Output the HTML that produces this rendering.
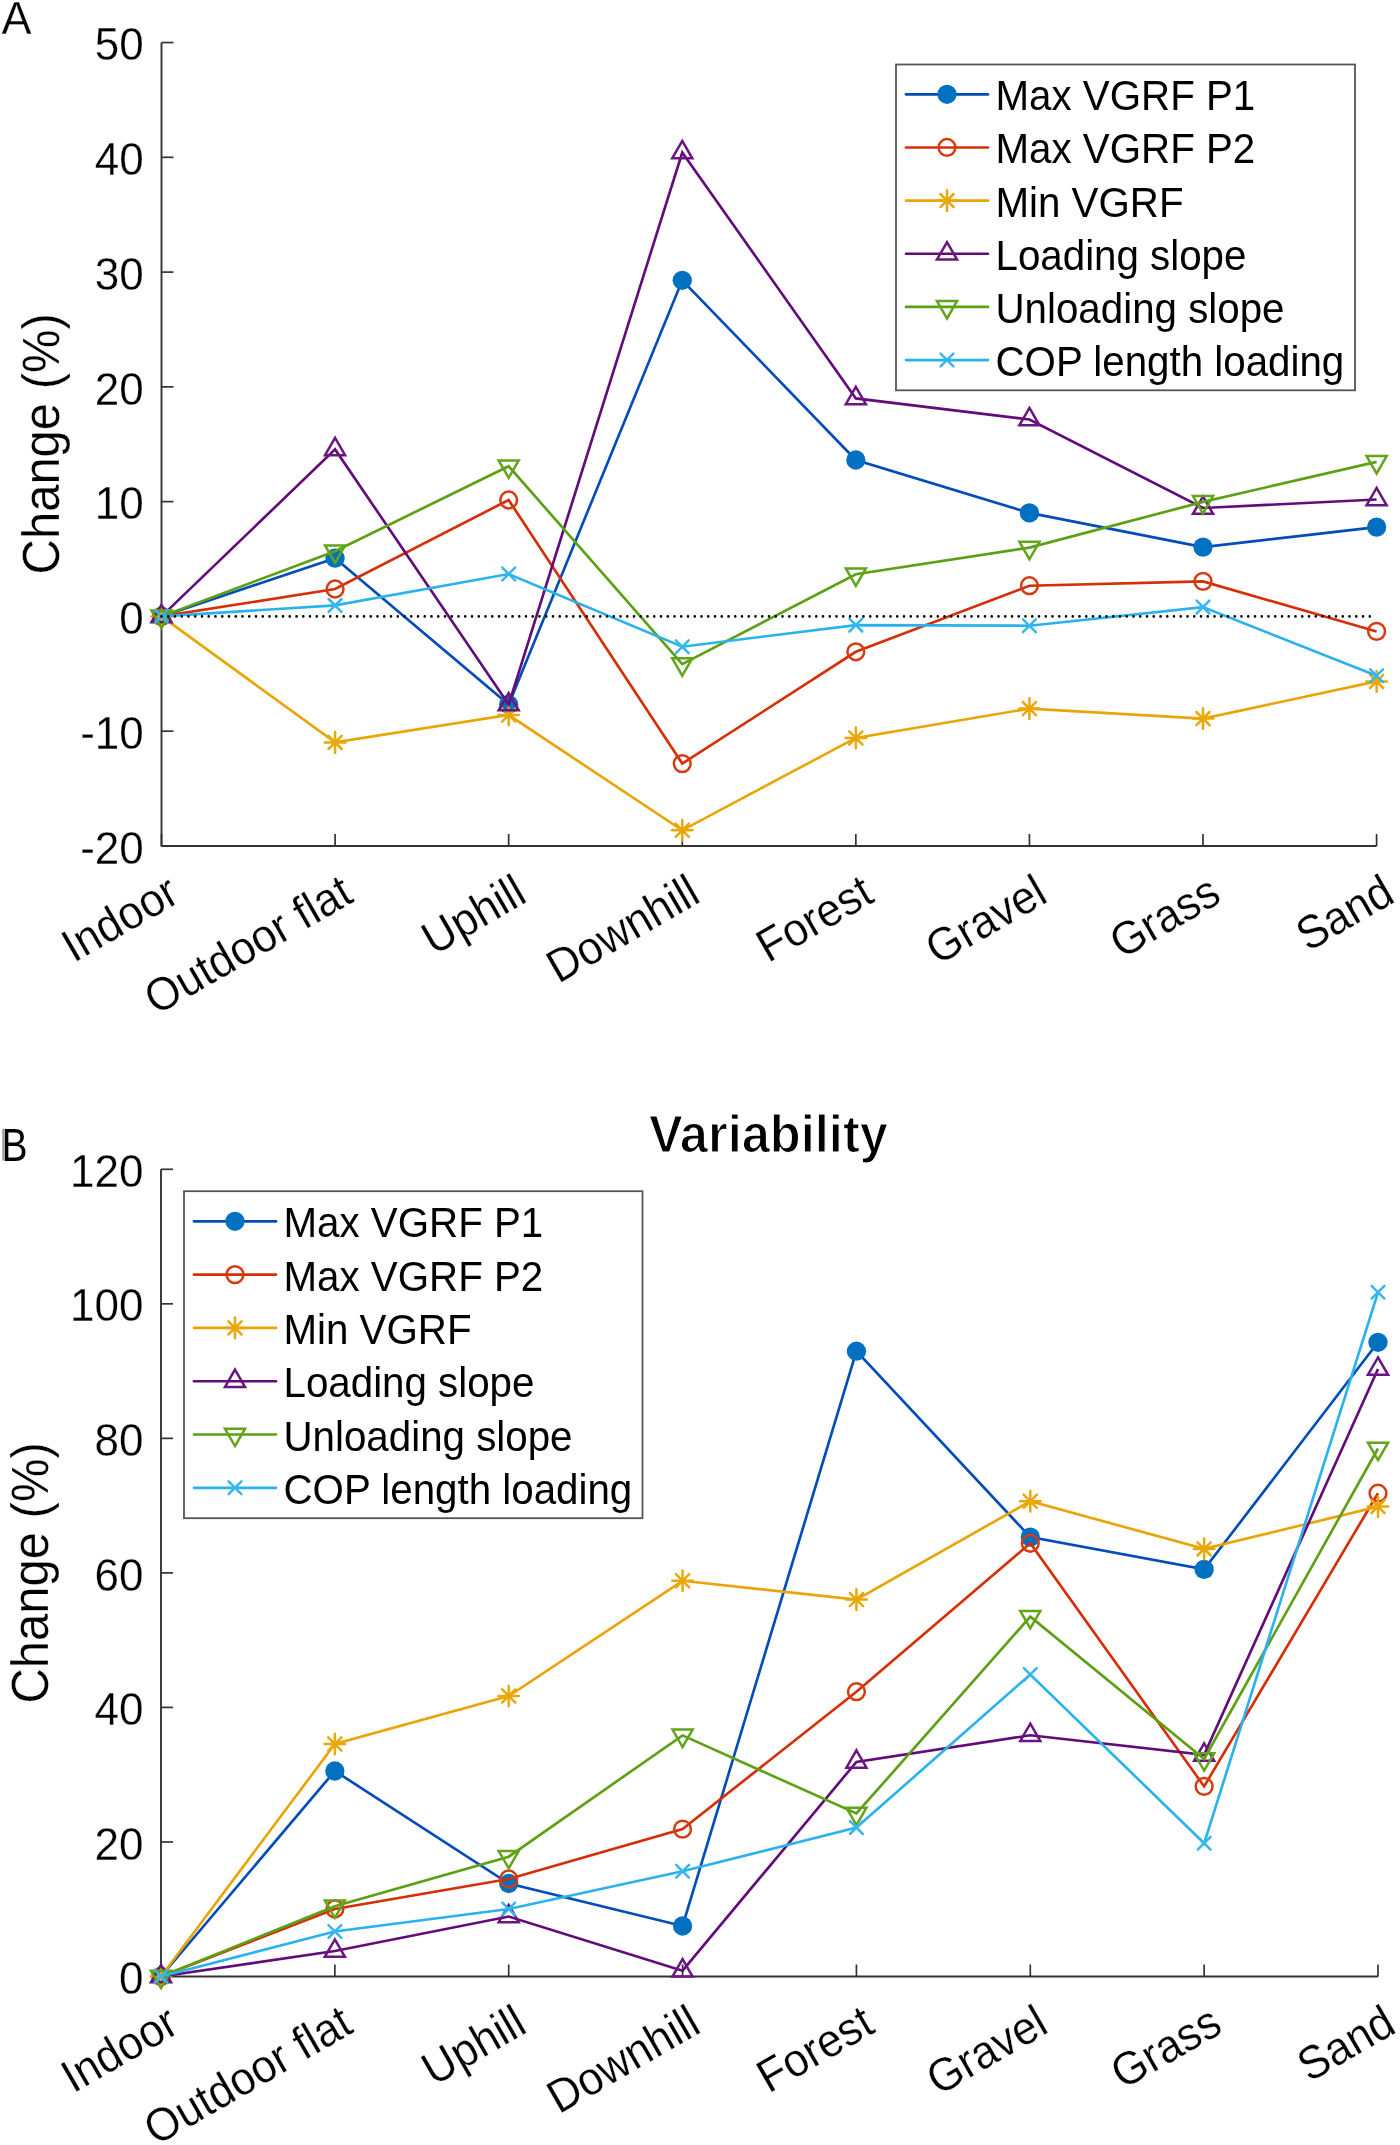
<!DOCTYPE html>
<html><head><meta charset="utf-8"><style>
html,body{margin:0;padding:0;background:#fff;}
svg{display:block;will-change:transform;}
text{font-family:"Liberation Sans", sans-serif;}
</style></head><body>
<svg width="1400" height="2145" viewBox="0 0 1400 2145">
<rect width="1400" height="2145" fill="#fff"/>
<text x="0" y="0" font-size="45" text-anchor="start" font-weight="normal" fill="#000" stroke="#fff" stroke-width="0.25" transform="translate(1.50 33.80) scale(1 1.04)">A</text>
<path d="M161.50,42.40V846.00H1376.60" fill="none" stroke="#333333" stroke-width="1.9" stroke-linejoin="round"/>
<line x1="161.50" y1="42.55" x2="173.50" y2="42.55" stroke="#333333" stroke-width="1.7"/>
<text x="0" y="0" font-size="44" text-anchor="end" font-weight="normal" fill="#000" stroke="#fff" stroke-width="0.25" transform="translate(143.80 60.35) scale(1 1.06)">50</text>
<line x1="161.50" y1="157.32" x2="173.50" y2="157.32" stroke="#333333" stroke-width="1.7"/>
<text x="0" y="0" font-size="44" text-anchor="end" font-weight="normal" fill="#000" stroke="#fff" stroke-width="0.25" transform="translate(143.80 175.12) scale(1 1.06)">40</text>
<line x1="161.50" y1="272.09" x2="173.50" y2="272.09" stroke="#333333" stroke-width="1.7"/>
<text x="0" y="0" font-size="44" text-anchor="end" font-weight="normal" fill="#000" stroke="#fff" stroke-width="0.25" transform="translate(143.80 289.89) scale(1 1.06)">30</text>
<line x1="161.50" y1="386.86" x2="173.50" y2="386.86" stroke="#333333" stroke-width="1.7"/>
<text x="0" y="0" font-size="44" text-anchor="end" font-weight="normal" fill="#000" stroke="#fff" stroke-width="0.25" transform="translate(143.80 404.66) scale(1 1.06)">20</text>
<line x1="161.50" y1="501.63" x2="173.50" y2="501.63" stroke="#333333" stroke-width="1.7"/>
<text x="0" y="0" font-size="44" text-anchor="end" font-weight="normal" fill="#000" stroke="#fff" stroke-width="0.25" transform="translate(143.80 519.43) scale(1 1.06)">10</text>
<line x1="161.50" y1="616.40" x2="173.50" y2="616.40" stroke="#333333" stroke-width="1.7"/>
<text x="0" y="0" font-size="44" text-anchor="end" font-weight="normal" fill="#000" stroke="#fff" stroke-width="0.25" transform="translate(143.80 634.20) scale(1 1.06)">0</text>
<line x1="161.50" y1="731.17" x2="173.50" y2="731.17" stroke="#333333" stroke-width="1.7"/>
<text x="0" y="0" font-size="44" text-anchor="end" font-weight="normal" fill="#000" stroke="#fff" stroke-width="0.25" transform="translate(143.80 748.97) scale(1 1.06)">-10</text>
<line x1="161.50" y1="845.94" x2="173.50" y2="845.94" stroke="#333333" stroke-width="1.7"/>
<text x="0" y="0" font-size="44" text-anchor="end" font-weight="normal" fill="#000" stroke="#fff" stroke-width="0.25" transform="translate(143.80 863.74) scale(1 1.06)">-20</text>
<line x1="161.50" y1="846.00" x2="161.50" y2="834.00" stroke="#333333" stroke-width="1.7"/>
<text x="0" y="0" font-size="44" text-anchor="end" font-weight="normal" fill="#000" stroke="#fff" stroke-width="0.25" transform="translate(181.80 900.90) rotate(-30) scale(1 1.06)">Indoor</text>
<line x1="335.09" y1="846.00" x2="335.09" y2="834.00" stroke="#333333" stroke-width="1.7"/>
<text x="0" y="0" font-size="44" text-anchor="end" font-weight="normal" fill="#000" stroke="#fff" stroke-width="0.25" transform="translate(355.39 900.90) rotate(-30) scale(1 1.06)">Outdoor flat</text>
<line x1="508.67" y1="846.00" x2="508.67" y2="834.00" stroke="#333333" stroke-width="1.7"/>
<text x="0" y="0" font-size="44" text-anchor="end" font-weight="normal" fill="#000" stroke="#fff" stroke-width="0.25" transform="translate(528.97 900.90) rotate(-30) scale(1 1.06)">Uphill</text>
<line x1="682.26" y1="846.00" x2="682.26" y2="834.00" stroke="#333333" stroke-width="1.7"/>
<text x="0" y="0" font-size="44" text-anchor="end" font-weight="normal" fill="#000" stroke="#fff" stroke-width="0.25" transform="translate(702.56 900.90) rotate(-30) scale(1 1.06)">Downhill</text>
<line x1="855.84" y1="846.00" x2="855.84" y2="834.00" stroke="#333333" stroke-width="1.7"/>
<text x="0" y="0" font-size="44" text-anchor="end" font-weight="normal" fill="#000" stroke="#fff" stroke-width="0.25" transform="translate(876.14 900.90) rotate(-30) scale(1 1.06)">Forest</text>
<line x1="1029.43" y1="846.00" x2="1029.43" y2="834.00" stroke="#333333" stroke-width="1.7"/>
<text x="0" y="0" font-size="44" text-anchor="end" font-weight="normal" fill="#000" stroke="#fff" stroke-width="0.25" transform="translate(1049.73 900.90) rotate(-30) scale(1 1.06)">Gravel</text>
<line x1="1203.01" y1="846.00" x2="1203.01" y2="834.00" stroke="#333333" stroke-width="1.7"/>
<text x="0" y="0" font-size="44" text-anchor="end" font-weight="normal" fill="#000" stroke="#fff" stroke-width="0.25" transform="translate(1223.31 900.90) rotate(-30) scale(1 1.06)">Grass</text>
<line x1="1376.60" y1="846.00" x2="1376.60" y2="834.00" stroke="#333333" stroke-width="1.7"/>
<text x="0" y="0" font-size="44" text-anchor="end" font-weight="normal" fill="#000" stroke="#fff" stroke-width="0.25" transform="translate(1396.90 900.90) rotate(-30) scale(1 1.06)">Sand</text>
<polyline points="161.50,616.40 335.09,558.20 508.67,704.50 682.26,280.30 855.84,460.00 1029.43,512.90 1203.01,547.10 1376.60,527.10" fill="none" stroke="#004CB8" stroke-width="2.65" stroke-linejoin="miter" stroke-miterlimit="10"/>
<circle cx="161.50" cy="616.40" r="9.65" fill="#0070C0" stroke="none"/>
<circle cx="335.09" cy="558.20" r="9.65" fill="#0070C0" stroke="none"/>
<circle cx="508.67" cy="704.50" r="9.65" fill="#0070C0" stroke="none"/>
<circle cx="682.26" cy="280.30" r="9.65" fill="#0070C0" stroke="none"/>
<circle cx="855.84" cy="460.00" r="9.65" fill="#0070C0" stroke="none"/>
<circle cx="1029.43" cy="512.90" r="9.65" fill="#0070C0" stroke="none"/>
<circle cx="1203.01" cy="547.10" r="9.65" fill="#0070C0" stroke="none"/>
<circle cx="1376.60" cy="527.10" r="9.65" fill="#0070C0" stroke="none"/>
<polyline points="161.50,616.40 335.09,589.00 508.67,500.00 682.26,763.60 855.84,651.80 1029.43,585.70 1203.01,581.40 1376.60,631.40" fill="none" stroke="#D62E06" stroke-width="2.65" stroke-linejoin="miter" stroke-miterlimit="10"/>
<circle cx="161.50" cy="616.40" r="8.40" fill="none" stroke="#D83A10" stroke-width="2.5"/>
<circle cx="335.09" cy="589.00" r="8.40" fill="none" stroke="#D83A10" stroke-width="2.5"/>
<circle cx="508.67" cy="500.00" r="8.40" fill="none" stroke="#D83A10" stroke-width="2.5"/>
<circle cx="682.26" cy="763.60" r="8.40" fill="none" stroke="#D83A10" stroke-width="2.5"/>
<circle cx="855.84" cy="651.80" r="8.40" fill="none" stroke="#D83A10" stroke-width="2.5"/>
<circle cx="1029.43" cy="585.70" r="8.40" fill="none" stroke="#D83A10" stroke-width="2.5"/>
<circle cx="1203.01" cy="581.40" r="8.40" fill="none" stroke="#D83A10" stroke-width="2.5"/>
<circle cx="1376.60" cy="631.40" r="8.40" fill="none" stroke="#D83A10" stroke-width="2.5"/>
<polyline points="161.50,616.40 335.09,742.40 508.67,715.00 682.26,830.30 855.84,737.90 1029.43,708.60 1203.01,718.60 1376.60,681.40" fill="none" stroke="#E9A506" stroke-width="2.65" stroke-linejoin="miter" stroke-miterlimit="10"/>
<path d="M161.50,606.10V626.70M151.20,616.40H171.80M154.90,609.80L168.10,623.00M154.90,623.00L168.10,609.80" stroke="#E9A80A" stroke-width="2.5" stroke-linecap="round" fill="none"/>
<path d="M335.09,732.10V752.70M324.79,742.40H345.39M328.49,735.80L341.69,749.00M328.49,749.00L341.69,735.80" stroke="#E9A80A" stroke-width="2.5" stroke-linecap="round" fill="none"/>
<path d="M508.67,704.70V725.30M498.37,715.00H518.97M502.07,708.40L515.27,721.60M502.07,721.60L515.27,708.40" stroke="#E9A80A" stroke-width="2.5" stroke-linecap="round" fill="none"/>
<path d="M682.26,820.00V840.60M671.96,830.30H692.56M675.66,823.70L688.86,836.90M675.66,836.90L688.86,823.70" stroke="#E9A80A" stroke-width="2.5" stroke-linecap="round" fill="none"/>
<path d="M855.84,727.60V748.20M845.54,737.90H866.14M849.24,731.30L862.44,744.50M849.24,744.50L862.44,731.30" stroke="#E9A80A" stroke-width="2.5" stroke-linecap="round" fill="none"/>
<path d="M1029.43,698.30V718.90M1019.13,708.60H1039.73M1022.83,702.00L1036.03,715.20M1022.83,715.20L1036.03,702.00" stroke="#E9A80A" stroke-width="2.5" stroke-linecap="round" fill="none"/>
<path d="M1203.01,708.30V728.90M1192.71,718.60H1213.31M1196.41,712.00L1209.61,725.20M1196.41,725.20L1209.61,712.00" stroke="#E9A80A" stroke-width="2.5" stroke-linecap="round" fill="none"/>
<path d="M1376.60,671.10V691.70M1366.30,681.40H1386.90M1370.00,674.80L1383.20,688.00M1370.00,688.00L1383.20,674.80" stroke="#E9A80A" stroke-width="2.5" stroke-linecap="round" fill="none"/>
<polyline points="161.50,616.40 335.09,449.40 508.67,704.50 682.26,152.50 855.84,398.40 1029.43,419.50 1203.01,508.00 1376.60,499.50" fill="none" stroke="#620C7A" stroke-width="2.65" stroke-linejoin="miter" stroke-miterlimit="10"/>
<polygon points="161.50,604.80 171.55,622.20 151.45,622.20" fill="none" stroke="#6A1680" stroke-width="2.5" stroke-linejoin="miter"/>
<polygon points="335.09,437.80 345.13,455.20 325.04,455.20" fill="none" stroke="#6A1680" stroke-width="2.5" stroke-linejoin="miter"/>
<polygon points="508.67,692.90 518.72,710.30 498.63,710.30" fill="none" stroke="#6A1680" stroke-width="2.5" stroke-linejoin="miter"/>
<polygon points="682.26,140.90 692.30,158.30 672.21,158.30" fill="none" stroke="#6A1680" stroke-width="2.5" stroke-linejoin="miter"/>
<polygon points="855.84,386.80 865.89,404.20 845.80,404.20" fill="none" stroke="#6A1680" stroke-width="2.5" stroke-linejoin="miter"/>
<polygon points="1029.43,407.90 1039.47,425.30 1019.38,425.30" fill="none" stroke="#6A1680" stroke-width="2.5" stroke-linejoin="miter"/>
<polygon points="1203.01,496.40 1213.06,513.80 1192.97,513.80" fill="none" stroke="#6A1680" stroke-width="2.5" stroke-linejoin="miter"/>
<polygon points="1376.60,487.90 1386.65,505.30 1366.55,505.30" fill="none" stroke="#6A1680" stroke-width="2.5" stroke-linejoin="miter"/>
<polyline points="161.50,616.40 335.09,551.20 508.67,466.20 682.26,664.10 855.84,574.20 1029.43,547.60 1203.01,501.90 1376.60,461.90" fill="none" stroke="#5CA014" stroke-width="2.65" stroke-linejoin="miter" stroke-miterlimit="10"/>
<polygon points="161.50,628.00 171.55,610.60 151.45,610.60" fill="none" stroke="#62A41A" stroke-width="2.5" stroke-linejoin="miter"/>
<polygon points="335.09,562.80 345.13,545.40 325.04,545.40" fill="none" stroke="#62A41A" stroke-width="2.5" stroke-linejoin="miter"/>
<polygon points="508.67,477.80 518.72,460.40 498.63,460.40" fill="none" stroke="#62A41A" stroke-width="2.5" stroke-linejoin="miter"/>
<polygon points="682.26,675.70 692.30,658.30 672.21,658.30" fill="none" stroke="#62A41A" stroke-width="2.5" stroke-linejoin="miter"/>
<polygon points="855.84,585.80 865.89,568.40 845.80,568.40" fill="none" stroke="#62A41A" stroke-width="2.5" stroke-linejoin="miter"/>
<polygon points="1029.43,559.20 1039.47,541.80 1019.38,541.80" fill="none" stroke="#62A41A" stroke-width="2.5" stroke-linejoin="miter"/>
<polygon points="1203.01,513.50 1213.06,496.10 1192.97,496.10" fill="none" stroke="#62A41A" stroke-width="2.5" stroke-linejoin="miter"/>
<polygon points="1376.60,473.50 1386.65,456.10 1366.55,456.10" fill="none" stroke="#62A41A" stroke-width="2.5" stroke-linejoin="miter"/>
<polyline points="161.50,616.40 335.09,605.40 508.67,574.00 682.26,646.70 855.84,625.10 1029.43,625.70 1203.01,607.10 1376.60,675.70" fill="none" stroke="#2AB2EE" stroke-width="2.65" stroke-linejoin="miter" stroke-miterlimit="10"/>
<path d="M155.10,610.00L167.90,622.80M155.10,622.80L167.90,610.00" stroke="#36B6EE" stroke-width="2.5" stroke-linecap="round" fill="none"/>
<path d="M328.69,599.00L341.49,611.80M328.69,611.80L341.49,599.00" stroke="#36B6EE" stroke-width="2.5" stroke-linecap="round" fill="none"/>
<path d="M502.27,567.60L515.07,580.40M502.27,580.40L515.07,567.60" stroke="#36B6EE" stroke-width="2.5" stroke-linecap="round" fill="none"/>
<path d="M675.86,640.30L688.66,653.10M675.86,653.10L688.66,640.30" stroke="#36B6EE" stroke-width="2.5" stroke-linecap="round" fill="none"/>
<path d="M849.44,618.70L862.24,631.50M849.44,631.50L862.24,618.70" stroke="#36B6EE" stroke-width="2.5" stroke-linecap="round" fill="none"/>
<path d="M1023.03,619.30L1035.83,632.10M1023.03,632.10L1035.83,619.30" stroke="#36B6EE" stroke-width="2.5" stroke-linecap="round" fill="none"/>
<path d="M1196.61,600.70L1209.41,613.50M1196.61,613.50L1209.41,600.70" stroke="#36B6EE" stroke-width="2.5" stroke-linecap="round" fill="none"/>
<path d="M1370.20,669.30L1383.00,682.10M1370.20,682.10L1383.00,669.30" stroke="#36B6EE" stroke-width="2.5" stroke-linecap="round" fill="none"/>
<line x1="161.50" y1="616.40" x2="1374.60" y2="616.40" stroke="#000" stroke-width="2.6" stroke-linecap="round" stroke-dasharray="0 6.75"/>
<text x="0" y="0" font-size="49" text-anchor="middle" font-weight="normal" fill="#000" stroke="#fff" stroke-width="0.25" transform="translate(58.80 443.80) rotate(-90) scale(1 1.04)">Change (%)</text>
<rect x="896.00" y="64.50" width="459.00" height="325.80" fill="#fff" stroke="#555" stroke-width="1.8"/>
<line x1="906.00" y1="94.30" x2="988.00" y2="94.30" stroke="#004CB8" stroke-width="2.65" stroke-linecap="round"/>
<circle cx="947.00" cy="94.30" r="9.65" fill="#0070C0" stroke="none"/>
<text x="0" y="0" font-size="40.3" text-anchor="start" font-weight="normal" fill="#000" transform="translate(995.50 110.30) scale(1 1.04)">Max VGRF P1</text>
<line x1="906.00" y1="147.45" x2="988.00" y2="147.45" stroke="#D62E06" stroke-width="2.65" stroke-linecap="round"/>
<circle cx="947.00" cy="147.45" r="8.40" fill="none" stroke="#D83A10" stroke-width="2.5"/>
<text x="0" y="0" font-size="40.3" text-anchor="start" font-weight="normal" fill="#000" transform="translate(995.50 163.45) scale(1 1.04)">Max VGRF P2</text>
<line x1="906.00" y1="200.60" x2="988.00" y2="200.60" stroke="#E9A506" stroke-width="2.65" stroke-linecap="round"/>
<path d="M947.00,190.30V210.90M936.70,200.60H957.30M940.40,194.00L953.60,207.20M940.40,207.20L953.60,194.00" stroke="#E9A80A" stroke-width="2.5" stroke-linecap="round" fill="none"/>
<text x="0" y="0" font-size="40.3" text-anchor="start" font-weight="normal" fill="#000" transform="translate(995.50 216.60) scale(1 1.04)">Min VGRF</text>
<line x1="906.00" y1="253.75" x2="988.00" y2="253.75" stroke="#620C7A" stroke-width="2.65" stroke-linecap="round"/>
<polygon points="947.00,242.15 957.05,259.55 936.95,259.55" fill="none" stroke="#6A1680" stroke-width="2.5" stroke-linejoin="miter"/>
<text x="0" y="0" font-size="40.3" text-anchor="start" font-weight="normal" fill="#000" transform="translate(995.50 269.75) scale(1 1.04)">Loading slope</text>
<line x1="906.00" y1="306.90" x2="988.00" y2="306.90" stroke="#5CA014" stroke-width="2.65" stroke-linecap="round"/>
<polygon points="947.00,318.50 957.05,301.10 936.95,301.10" fill="none" stroke="#62A41A" stroke-width="2.5" stroke-linejoin="miter"/>
<text x="0" y="0" font-size="40.3" text-anchor="start" font-weight="normal" fill="#000" transform="translate(995.50 322.90) scale(1 1.04)">Unloading slope</text>
<line x1="906.00" y1="360.05" x2="988.00" y2="360.05" stroke="#2AB2EE" stroke-width="2.65" stroke-linecap="round"/>
<path d="M940.60,353.65L953.40,366.45M940.60,366.45L953.40,353.65" stroke="#36B6EE" stroke-width="2.5" stroke-linecap="round" fill="none"/>
<text x="0" y="0" font-size="40.3" text-anchor="start" font-weight="normal" fill="#000" transform="translate(995.50 376.05) scale(1 1.04)">COP length loading</text>
<rect x="2.3" y="1129" width="1.8" height="31.5" fill="#9a9a9a"/>
<text x="0" y="0" font-size="45" fill="#000" transform="translate(1.5 1160.5) scale(0.87 1.04)">B</text>
<text x="0" y="0" font-size="50.6" text-anchor="middle" font-weight="bold" fill="#000" stroke="#fff" stroke-width="1.2" transform="translate(768.40 1152.40) scale(1 1.04)">Variability</text>
<path d="M161.00,1169.30V1976.50H1378.00" fill="none" stroke="#333333" stroke-width="1.9" stroke-linejoin="round"/>
<line x1="161.00" y1="1169.30" x2="173.00" y2="1169.30" stroke="#333333" stroke-width="1.7"/>
<text x="0" y="0" font-size="44" text-anchor="end" font-weight="normal" fill="#000" stroke="#fff" stroke-width="0.25" transform="translate(143.40 1186.90) scale(1 1.06)">120</text>
<line x1="161.00" y1="1303.83" x2="173.00" y2="1303.83" stroke="#333333" stroke-width="1.7"/>
<text x="0" y="0" font-size="44" text-anchor="end" font-weight="normal" fill="#000" stroke="#fff" stroke-width="0.25" transform="translate(143.40 1321.43) scale(1 1.06)">100</text>
<line x1="161.00" y1="1438.37" x2="173.00" y2="1438.37" stroke="#333333" stroke-width="1.7"/>
<text x="0" y="0" font-size="44" text-anchor="end" font-weight="normal" fill="#000" stroke="#fff" stroke-width="0.25" transform="translate(143.40 1455.97) scale(1 1.06)">80</text>
<line x1="161.00" y1="1572.90" x2="173.00" y2="1572.90" stroke="#333333" stroke-width="1.7"/>
<text x="0" y="0" font-size="44" text-anchor="end" font-weight="normal" fill="#000" stroke="#fff" stroke-width="0.25" transform="translate(143.40 1590.50) scale(1 1.06)">60</text>
<line x1="161.00" y1="1707.43" x2="173.00" y2="1707.43" stroke="#333333" stroke-width="1.7"/>
<text x="0" y="0" font-size="44" text-anchor="end" font-weight="normal" fill="#000" stroke="#fff" stroke-width="0.25" transform="translate(143.40 1725.03) scale(1 1.06)">40</text>
<line x1="161.00" y1="1841.97" x2="173.00" y2="1841.97" stroke="#333333" stroke-width="1.7"/>
<text x="0" y="0" font-size="44" text-anchor="end" font-weight="normal" fill="#000" stroke="#fff" stroke-width="0.25" transform="translate(143.40 1859.57) scale(1 1.06)">20</text>
<line x1="161.00" y1="1976.50" x2="173.00" y2="1976.50" stroke="#333333" stroke-width="1.7"/>
<text x="0" y="0" font-size="44" text-anchor="end" font-weight="normal" fill="#000" stroke="#fff" stroke-width="0.25" transform="translate(143.40 1994.10) scale(1 1.06)">0</text>
<line x1="161.00" y1="1976.50" x2="161.00" y2="1964.50" stroke="#333333" stroke-width="1.7"/>
<text x="0" y="0" font-size="44" text-anchor="end" font-weight="normal" fill="#000" stroke="#fff" stroke-width="0.25" transform="translate(181.30 2031.40) rotate(-30) scale(1 1.06)">Indoor</text>
<line x1="334.86" y1="1976.50" x2="334.86" y2="1964.50" stroke="#333333" stroke-width="1.7"/>
<text x="0" y="0" font-size="44" text-anchor="end" font-weight="normal" fill="#000" stroke="#fff" stroke-width="0.25" transform="translate(355.16 2031.40) rotate(-30) scale(1 1.06)">Outdoor flat</text>
<line x1="508.71" y1="1976.50" x2="508.71" y2="1964.50" stroke="#333333" stroke-width="1.7"/>
<text x="0" y="0" font-size="44" text-anchor="end" font-weight="normal" fill="#000" stroke="#fff" stroke-width="0.25" transform="translate(529.01 2031.40) rotate(-30) scale(1 1.06)">Uphill</text>
<line x1="682.57" y1="1976.50" x2="682.57" y2="1964.50" stroke="#333333" stroke-width="1.7"/>
<text x="0" y="0" font-size="44" text-anchor="end" font-weight="normal" fill="#000" stroke="#fff" stroke-width="0.25" transform="translate(702.87 2031.40) rotate(-30) scale(1 1.06)">Downhill</text>
<line x1="856.43" y1="1976.50" x2="856.43" y2="1964.50" stroke="#333333" stroke-width="1.7"/>
<text x="0" y="0" font-size="44" text-anchor="end" font-weight="normal" fill="#000" stroke="#fff" stroke-width="0.25" transform="translate(876.73 2031.40) rotate(-30) scale(1 1.06)">Forest</text>
<line x1="1030.29" y1="1976.50" x2="1030.29" y2="1964.50" stroke="#333333" stroke-width="1.7"/>
<text x="0" y="0" font-size="44" text-anchor="end" font-weight="normal" fill="#000" stroke="#fff" stroke-width="0.25" transform="translate(1050.59 2031.40) rotate(-30) scale(1 1.06)">Gravel</text>
<line x1="1204.14" y1="1976.50" x2="1204.14" y2="1964.50" stroke="#333333" stroke-width="1.7"/>
<text x="0" y="0" font-size="44" text-anchor="end" font-weight="normal" fill="#000" stroke="#fff" stroke-width="0.25" transform="translate(1224.44 2031.40) rotate(-30) scale(1 1.06)">Grass</text>
<line x1="1378.00" y1="1976.50" x2="1378.00" y2="1964.50" stroke="#333333" stroke-width="1.7"/>
<text x="0" y="0" font-size="44" text-anchor="end" font-weight="normal" fill="#000" stroke="#fff" stroke-width="0.25" transform="translate(1398.30 2031.40) rotate(-30) scale(1 1.06)">Sand</text>
<polyline points="161.00,1976.50 334.86,1771.00 508.71,1883.50 682.57,1926.00 856.43,1351.20 1030.29,1537.10 1204.14,1569.40 1378.00,1342.30" fill="none" stroke="#004CB8" stroke-width="2.65" stroke-linejoin="miter" stroke-miterlimit="10"/>
<circle cx="161.00" cy="1976.50" r="9.65" fill="#0070C0" stroke="none"/>
<circle cx="334.86" cy="1771.00" r="9.65" fill="#0070C0" stroke="none"/>
<circle cx="508.71" cy="1883.50" r="9.65" fill="#0070C0" stroke="none"/>
<circle cx="682.57" cy="1926.00" r="9.65" fill="#0070C0" stroke="none"/>
<circle cx="856.43" cy="1351.20" r="9.65" fill="#0070C0" stroke="none"/>
<circle cx="1030.29" cy="1537.10" r="9.65" fill="#0070C0" stroke="none"/>
<circle cx="1204.14" cy="1569.40" r="9.65" fill="#0070C0" stroke="none"/>
<circle cx="1378.00" cy="1342.30" r="9.65" fill="#0070C0" stroke="none"/>
<polyline points="161.00,1976.50 334.86,1909.00 508.71,1879.00 682.57,1829.10 856.43,1691.70 1030.29,1543.30 1204.14,1786.40 1378.00,1493.20" fill="none" stroke="#D62E06" stroke-width="2.65" stroke-linejoin="miter" stroke-miterlimit="10"/>
<circle cx="161.00" cy="1976.50" r="8.40" fill="none" stroke="#D83A10" stroke-width="2.5"/>
<circle cx="334.86" cy="1909.00" r="8.40" fill="none" stroke="#D83A10" stroke-width="2.5"/>
<circle cx="508.71" cy="1879.00" r="8.40" fill="none" stroke="#D83A10" stroke-width="2.5"/>
<circle cx="682.57" cy="1829.10" r="8.40" fill="none" stroke="#D83A10" stroke-width="2.5"/>
<circle cx="856.43" cy="1691.70" r="8.40" fill="none" stroke="#D83A10" stroke-width="2.5"/>
<circle cx="1030.29" cy="1543.30" r="8.40" fill="none" stroke="#D83A10" stroke-width="2.5"/>
<circle cx="1204.14" cy="1786.40" r="8.40" fill="none" stroke="#D83A10" stroke-width="2.5"/>
<circle cx="1378.00" cy="1493.20" r="8.40" fill="none" stroke="#D83A10" stroke-width="2.5"/>
<polyline points="161.00,1976.50 334.86,1744.00 508.71,1696.00 682.57,1580.80 856.43,1599.60 1030.29,1501.20 1204.14,1548.90 1378.00,1506.60" fill="none" stroke="#E9A506" stroke-width="2.65" stroke-linejoin="miter" stroke-miterlimit="10"/>
<path d="M161.00,1966.20V1986.80M150.70,1976.50H171.30M154.40,1969.90L167.60,1983.10M154.40,1983.10L167.60,1969.90" stroke="#E9A80A" stroke-width="2.5" stroke-linecap="round" fill="none"/>
<path d="M334.86,1733.70V1754.30M324.56,1744.00H345.16M328.26,1737.40L341.46,1750.60M328.26,1750.60L341.46,1737.40" stroke="#E9A80A" stroke-width="2.5" stroke-linecap="round" fill="none"/>
<path d="M508.71,1685.70V1706.30M498.41,1696.00H519.01M502.11,1689.40L515.31,1702.60M502.11,1702.60L515.31,1689.40" stroke="#E9A80A" stroke-width="2.5" stroke-linecap="round" fill="none"/>
<path d="M682.57,1570.50V1591.10M672.27,1580.80H692.87M675.97,1574.20L689.17,1587.40M675.97,1587.40L689.17,1574.20" stroke="#E9A80A" stroke-width="2.5" stroke-linecap="round" fill="none"/>
<path d="M856.43,1589.30V1609.90M846.13,1599.60H866.73M849.83,1593.00L863.03,1606.20M849.83,1606.20L863.03,1593.00" stroke="#E9A80A" stroke-width="2.5" stroke-linecap="round" fill="none"/>
<path d="M1030.29,1490.90V1511.50M1019.99,1501.20H1040.59M1023.69,1494.60L1036.89,1507.80M1023.69,1507.80L1036.89,1494.60" stroke="#E9A80A" stroke-width="2.5" stroke-linecap="round" fill="none"/>
<path d="M1204.14,1538.60V1559.20M1193.84,1548.90H1214.44M1197.54,1542.30L1210.74,1555.50M1197.54,1555.50L1210.74,1542.30" stroke="#E9A80A" stroke-width="2.5" stroke-linecap="round" fill="none"/>
<path d="M1378.00,1496.30V1516.90M1367.70,1506.60H1388.30M1371.40,1500.00L1384.60,1513.20M1371.40,1513.20L1384.60,1500.00" stroke="#E9A80A" stroke-width="2.5" stroke-linecap="round" fill="none"/>
<polyline points="161.00,1976.50 334.86,1951.00 508.71,1916.50 682.57,1970.70 856.43,1761.90 1030.29,1735.30 1204.14,1754.90 1378.00,1369.00" fill="none" stroke="#620C7A" stroke-width="2.65" stroke-linejoin="miter" stroke-miterlimit="10"/>
<polygon points="161.00,1964.90 171.05,1982.30 150.95,1982.30" fill="none" stroke="#6A1680" stroke-width="2.5" stroke-linejoin="miter"/>
<polygon points="334.86,1939.40 344.90,1956.80 324.81,1956.80" fill="none" stroke="#6A1680" stroke-width="2.5" stroke-linejoin="miter"/>
<polygon points="508.71,1904.90 518.76,1922.30 498.67,1922.30" fill="none" stroke="#6A1680" stroke-width="2.5" stroke-linejoin="miter"/>
<polygon points="682.57,1959.10 692.62,1976.50 672.53,1976.50" fill="none" stroke="#6A1680" stroke-width="2.5" stroke-linejoin="miter"/>
<polygon points="856.43,1750.30 866.47,1767.70 846.38,1767.70" fill="none" stroke="#6A1680" stroke-width="2.5" stroke-linejoin="miter"/>
<polygon points="1030.29,1723.70 1040.33,1741.10 1020.24,1741.10" fill="none" stroke="#6A1680" stroke-width="2.5" stroke-linejoin="miter"/>
<polygon points="1204.14,1743.30 1214.19,1760.70 1194.10,1760.70" fill="none" stroke="#6A1680" stroke-width="2.5" stroke-linejoin="miter"/>
<polygon points="1378.00,1357.40 1388.05,1374.80 1367.95,1374.80" fill="none" stroke="#6A1680" stroke-width="2.5" stroke-linejoin="miter"/>
<polyline points="161.00,1976.50 334.86,1906.20 508.71,1856.70 682.57,1735.40 856.43,1813.50 1030.29,1616.70 1204.14,1759.00 1378.00,1448.50" fill="none" stroke="#5CA014" stroke-width="2.65" stroke-linejoin="miter" stroke-miterlimit="10"/>
<polygon points="161.00,1988.10 171.05,1970.70 150.95,1970.70" fill="none" stroke="#62A41A" stroke-width="2.5" stroke-linejoin="miter"/>
<polygon points="334.86,1917.80 344.90,1900.40 324.81,1900.40" fill="none" stroke="#62A41A" stroke-width="2.5" stroke-linejoin="miter"/>
<polygon points="508.71,1868.30 518.76,1850.90 498.67,1850.90" fill="none" stroke="#62A41A" stroke-width="2.5" stroke-linejoin="miter"/>
<polygon points="682.57,1747.00 692.62,1729.60 672.53,1729.60" fill="none" stroke="#62A41A" stroke-width="2.5" stroke-linejoin="miter"/>
<polygon points="856.43,1825.10 866.47,1807.70 846.38,1807.70" fill="none" stroke="#62A41A" stroke-width="2.5" stroke-linejoin="miter"/>
<polygon points="1030.29,1628.30 1040.33,1610.90 1020.24,1610.90" fill="none" stroke="#62A41A" stroke-width="2.5" stroke-linejoin="miter"/>
<polygon points="1204.14,1770.60 1214.19,1753.20 1194.10,1753.20" fill="none" stroke="#62A41A" stroke-width="2.5" stroke-linejoin="miter"/>
<polygon points="1378.00,1460.10 1388.05,1442.70 1367.95,1442.70" fill="none" stroke="#62A41A" stroke-width="2.5" stroke-linejoin="miter"/>
<polyline points="161.00,1976.50 334.86,1931.50 508.71,1909.00 682.57,1871.30 856.43,1827.60 1030.29,1674.50 1204.14,1843.30 1378.00,1292.30" fill="none" stroke="#2AB2EE" stroke-width="2.65" stroke-linejoin="miter" stroke-miterlimit="10"/>
<path d="M154.60,1970.10L167.40,1982.90M154.60,1982.90L167.40,1970.10" stroke="#36B6EE" stroke-width="2.5" stroke-linecap="round" fill="none"/>
<path d="M328.46,1925.10L341.26,1937.90M328.46,1937.90L341.26,1925.10" stroke="#36B6EE" stroke-width="2.5" stroke-linecap="round" fill="none"/>
<path d="M502.31,1902.60L515.11,1915.40M502.31,1915.40L515.11,1902.60" stroke="#36B6EE" stroke-width="2.5" stroke-linecap="round" fill="none"/>
<path d="M676.17,1864.90L688.97,1877.70M676.17,1877.70L688.97,1864.90" stroke="#36B6EE" stroke-width="2.5" stroke-linecap="round" fill="none"/>
<path d="M850.03,1821.20L862.83,1834.00M850.03,1834.00L862.83,1821.20" stroke="#36B6EE" stroke-width="2.5" stroke-linecap="round" fill="none"/>
<path d="M1023.89,1668.10L1036.69,1680.90M1023.89,1680.90L1036.69,1668.10" stroke="#36B6EE" stroke-width="2.5" stroke-linecap="round" fill="none"/>
<path d="M1197.74,1836.90L1210.54,1849.70M1197.74,1849.70L1210.54,1836.90" stroke="#36B6EE" stroke-width="2.5" stroke-linecap="round" fill="none"/>
<path d="M1371.60,1285.90L1384.40,1298.70M1371.60,1298.70L1384.40,1285.90" stroke="#36B6EE" stroke-width="2.5" stroke-linecap="round" fill="none"/>
<text x="0" y="0" font-size="49" text-anchor="middle" font-weight="normal" fill="#000" stroke="#fff" stroke-width="0.25" transform="translate(47.80 1572.90) rotate(-90) scale(1 1.04)">Change (%)</text>
<rect x="184.00" y="1191.20" width="458.50" height="327.00" fill="#fff" stroke="#555" stroke-width="1.8"/>
<line x1="194.00" y1="1221.30" x2="276.00" y2="1221.30" stroke="#004CB8" stroke-width="2.65" stroke-linecap="round"/>
<circle cx="235.00" cy="1221.30" r="9.65" fill="#0070C0" stroke="none"/>
<text x="0" y="0" font-size="40.3" text-anchor="start" font-weight="normal" fill="#000" transform="translate(283.50 1237.30) scale(1 1.04)">Max VGRF P1</text>
<line x1="194.00" y1="1274.60" x2="276.00" y2="1274.60" stroke="#D62E06" stroke-width="2.65" stroke-linecap="round"/>
<circle cx="235.00" cy="1274.60" r="8.40" fill="none" stroke="#D83A10" stroke-width="2.5"/>
<text x="0" y="0" font-size="40.3" text-anchor="start" font-weight="normal" fill="#000" transform="translate(283.50 1290.60) scale(1 1.04)">Max VGRF P2</text>
<line x1="194.00" y1="1327.90" x2="276.00" y2="1327.90" stroke="#E9A506" stroke-width="2.65" stroke-linecap="round"/>
<path d="M235.00,1317.60V1338.20M224.70,1327.90H245.30M228.40,1321.30L241.60,1334.50M228.40,1334.50L241.60,1321.30" stroke="#E9A80A" stroke-width="2.5" stroke-linecap="round" fill="none"/>
<text x="0" y="0" font-size="40.3" text-anchor="start" font-weight="normal" fill="#000" transform="translate(283.50 1343.90) scale(1 1.04)">Min VGRF</text>
<line x1="194.00" y1="1381.20" x2="276.00" y2="1381.20" stroke="#620C7A" stroke-width="2.65" stroke-linecap="round"/>
<polygon points="235.00,1369.60 245.05,1387.00 224.95,1387.00" fill="none" stroke="#6A1680" stroke-width="2.5" stroke-linejoin="miter"/>
<text x="0" y="0" font-size="40.3" text-anchor="start" font-weight="normal" fill="#000" transform="translate(283.50 1397.20) scale(1 1.04)">Loading slope</text>
<line x1="194.00" y1="1434.50" x2="276.00" y2="1434.50" stroke="#5CA014" stroke-width="2.65" stroke-linecap="round"/>
<polygon points="235.00,1446.10 245.05,1428.70 224.95,1428.70" fill="none" stroke="#62A41A" stroke-width="2.5" stroke-linejoin="miter"/>
<text x="0" y="0" font-size="40.3" text-anchor="start" font-weight="normal" fill="#000" transform="translate(283.50 1450.50) scale(1 1.04)">Unloading slope</text>
<line x1="194.00" y1="1487.80" x2="276.00" y2="1487.80" stroke="#2AB2EE" stroke-width="2.65" stroke-linecap="round"/>
<path d="M228.60,1481.40L241.40,1494.20M228.60,1494.20L241.40,1481.40" stroke="#36B6EE" stroke-width="2.5" stroke-linecap="round" fill="none"/>
<text x="0" y="0" font-size="40.3" text-anchor="start" font-weight="normal" fill="#000" transform="translate(283.50 1503.80) scale(1 1.04)">COP length loading</text>
</svg></body></html>
